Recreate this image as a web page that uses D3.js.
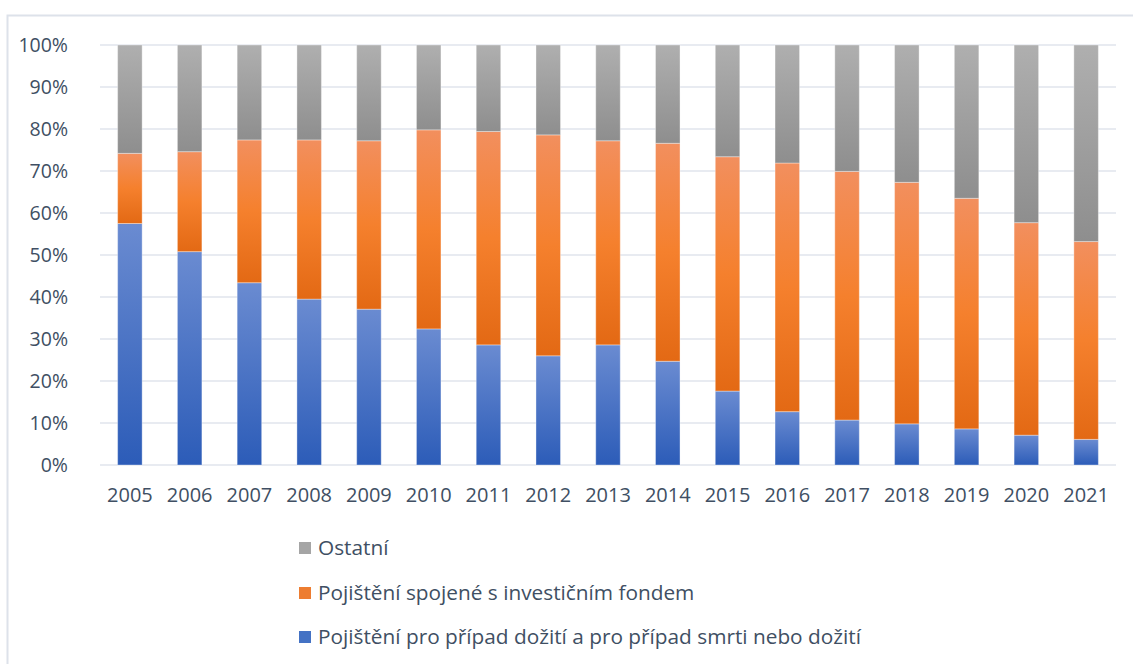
<!DOCTYPE html>
<html><head><meta charset="utf-8">
<script src="https://cdn.jsdelivr.net/npm/d3@7"></script>
<style>
html,body{margin:0;padding:0;background:#fff;overflow:hidden}
svg{display:block;font-family:"Open Sans",sans-serif}
</style></head>
<body><svg id="c" width="1133" height="664"></svg>
<script>
const years = ["2005","2006","2007","2008","2009","2010","2011","2012","2013","2014","2015","2016","2017","2018","2019","2020","2021"];
const seriesNames = ["Pojištění pro případ dožití a pro případ smrti nebo dožití","Pojištění spojené s investičním fondem","Ostatní"];
const endowment = [57.5,50.8,43.4,39.5,37.1,32.4,28.6,26.0,28.6,24.7,17.6,12.7,10.7,9.8,8.6,7.1,6.1];
const unitLinked = [16.7,23.8,34.0,37.9,40.1,47.4,50.8,52.6,48.6,51.9,55.8,59.2,59.2,57.5,54.9,50.6,47.1];
const other = [25.8,25.4,22.6,22.6,22.8,20.2,20.6,21.4,22.8,23.4,26.6,28.1,30.1,32.7,36.5,42.3,46.8];
const yTicks = [0,10,20,30,40,50,60,70,80,90,100];
const legendOrder = [2,1,0];

const svg = d3.select("#c");
const textColor = "#404f63";
const M = {left:100, right:1116, top:45, bottom:465};

// frame
svg.append("path").attr("d","M7.5,680 L7.5,15.5 L1150,15.5").attr("fill","none").attr("stroke","#dde2ea").attr("stroke-width",2);

const defs = svg.append("defs");
const grads = [
  {id:"gBlue", stops:[[0,"#6a8bd1"],[1,"#2c5cb8"]]},
  {id:"gOrange", stops:[[0,"#f28f5e"],[0.5,"#f5802d"],[1,"#e36914"]]},
  {id:"gGray", stops:[[0,"#afafaf"],[1,"#8e8e8e"]]}
];
grads.forEach(g=>{
  const lg = defs.append("linearGradient").attr("id",g.id).attr("x1",0).attr("y1",0).attr("x2",0).attr("y2",1);
  g.stops.forEach(s=>lg.append("stop").attr("offset",s[0]).attr("stop-color",s[1]));
});
const legendColors = ["#4472c4","#ed7d31","#a5a5a5"];

const data = years.map((y,i)=>({year:y, s0:endowment[i], s1:unitLinked[i], s2:other[i]}));
const stack = d3.stack().keys(["s0","s1","s2"]).offset(d3.stackOffsetExpand);
const stacked = stack(data);

const x = d3.scaleBand().domain(years).range([M.left,M.right]).paddingInner(0.59).paddingOuter(0.295);
const y = d3.scaleLinear().domain([0,1]).range([M.bottom,M.top]);

// gridlines
svg.append("g").selectAll("line").data(yTicks).join("line")
  .attr("x1",M.left).attr("x2",M.right)
  .attr("y1",d=>y(d/100)).attr("y2",d=>y(d/100))
  .attr("stroke","#e1e5ec").attr("stroke-width",1.5);

// y axis labels
const yAxis = d3.axisLeft(y).tickValues(yTicks.map(d=>d/100)).tickFormat(d=>Math.round(d*100)+"%").tickSize(0).tickPadding(0);
const ya = svg.append("g").attr("transform","translate(68,0)").call(yAxis);
ya.select(".domain").remove();
ya.selectAll("text").attr("fill",textColor).style("font-size","19.5px").style("font-family","'Open Sans',sans-serif");

// x axis labels
const xAxis = d3.axisBottom(x).tickSize(0).tickPadding(0);
const xa = svg.append("g").attr("transform","translate(0,488)").call(xAxis);
xa.select(".domain").remove();
xa.selectAll("text").attr("fill",textColor).style("font-size","20px").style("font-family","'Open Sans',sans-serif");

// bars
const gradIds = ["gBlue","gOrange","gGray"];
svg.append("g").selectAll("g").data(stacked).join("g")
  .attr("fill",(d,i)=>`url(#${gradIds[i]})`)
  .selectAll("rect").data(d=>d).join("rect")
  .attr("x",d=>x(d.data.year))
  .attr("width",x.bandwidth())
  .attr("y",d=>y(d[1]))
  .attr("height",d=>y(d[0])-y(d[1]))
  .attr("stroke","rgba(255,255,255,0.35)").attr("stroke-width",1);

// legend
const legendY = [548,593,637];
const lg = svg.append("g").selectAll("g").data(legendOrder).join("g")
  .attr("transform",(d,i)=>`translate(299,${legendY[i]})`);
lg.append("rect").attr("x",0).attr("y",-6).attr("width",12).attr("height",12).attr("fill",d=>legendColors[d]);
lg.append("text").attr("x",19).attr("y",0).attr("dy","0.35em").attr("fill",textColor)
  .style("font-size","20.8px").text(d=>seriesNames[d]);
</script></body></html>
